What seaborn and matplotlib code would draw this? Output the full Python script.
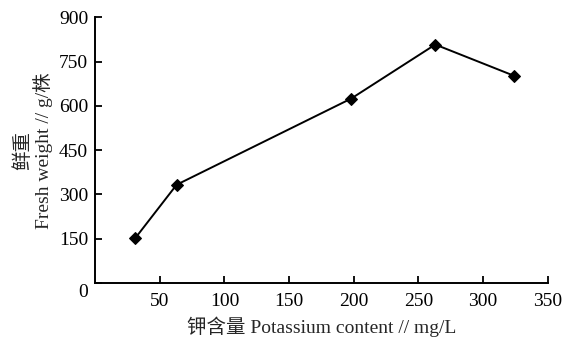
import numpy as np
import pandas as pd
import matplotlib
matplotlib.use('Agg')
from matplotlib import pyplot as plt
import matplotlib.transforms as mtransforms
import seaborn as sns

# values
potassium = [31, 63, 198, 263, 324]
fresh_weight = [152, 333, 625, 808, 702]
x_ticks = [50, 100, 150, 200, 250, 300, 350]
y_ticks = [0, 150, 300, 450, 600, 750, 900]

df = pd.DataFrame({'K': potassium, 'FW': fresh_weight})

sns.set_style('ticks')
plt.rcParams['font.family'] = ['Liberation Serif', 'Noto Sans CJK SC', 'DejaVu Sans']
plt.rcParams['axes.unicode_minus'] = False

fig = plt.figure(figsize=(5.63, 3.41), dpi=100)
ax = fig.add_axes([0.169, 0.170, 0.804, 0.779])

sns.lineplot(data=df, x='K', y='FW', ax=ax, color='black', linewidth=1.4,
             marker='D', markersize=6, markeredgecolor='black')

ax.set_xlim(0, 350)
ax.set_ylim(0, 900)
ax.set_xticks(x_ticks)
ax.set_yticks(y_ticks)
ax.tick_params(direction='in', length=5, width=1.3, labelsize=14, colors='black')
ax.tick_params(axis='x', pad=7)
ax.tick_params(axis='y', pad=5)

# move the shared "0" down to the corner
zero = ax.get_yticklabels()[0]
zero.set_transform(zero.get_transform() + mtransforms.ScaledTranslation(0, -7 / 100, fig.dpi_scale_trans))

for s in ['top', 'right']:
    ax.spines[s].set_visible(False)
for s in ['left', 'bottom']:
    ax.spines[s].set_linewidth(1.4)
    ax.spines[s].set_color('black')

ax.set_xlabel('钾含量 Potassium content // mg/L', fontsize=14, labelpad=5)
ax.set_ylabel('鲜重\nFresh weight // g/株', fontsize=14, labelpad=4, linespacing=1.05)

fig.savefig('out.png', dpi=100)
